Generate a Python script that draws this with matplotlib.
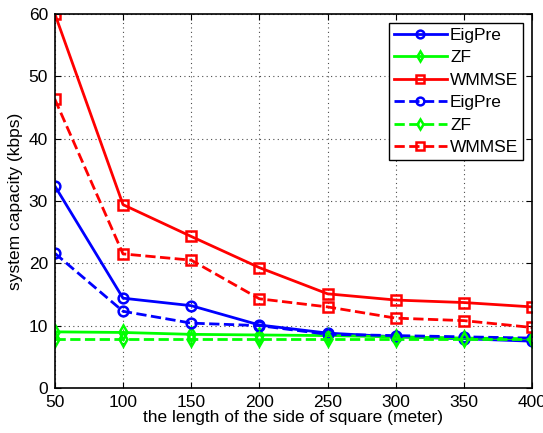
import numpy as np
import matplotlib.pyplot as plt

plt.rcParams['font.family'] = ['Liberation Sans', 'DejaVu Sans']

side = [50, 100, 150, 200, 250, 300, 350, 400]

eig_solid = [32.4, 14.4, 13.2, 10.1, 8.8, 8.2, 7.9, 7.5]
zf_solid = [9.0, 8.9, 8.6, 8.5, 8.4, 8.2, 8.0, 7.9]
wmmse_solid = [60.0, 29.4, 24.3, 19.3, 15.1, 14.1, 13.7, 13.0]

eig_dash = [21.6, 12.3, 10.4, 10.0, 8.6, 8.4, 8.2, 8.0]
zf_dash = [7.8, 7.8, 7.8, 7.8, 7.8, 7.8, 7.8, 7.8]
wmmse_dash = [46.3, 21.5, 20.5, 14.3, 13.0, 11.2, 10.8, 9.7]

blue = '#0000ff'
green = '#00ff00'
red = '#ff0000'

fig = plt.figure(figsize=(5.43, 4.33), dpi=100)
ax = fig.add_axes([0.101, 0.104, 0.879, 0.864])

lw = 2
ms = 7
ax.plot(side, eig_solid, '-o', color=blue, lw=lw, ms=ms, mfc='none', mew=1.8, label='EigPre')
ax.plot(side, zf_solid, '-d', color=green, lw=lw, ms=ms, mfc='none', mew=1.8, label='ZF')
ax.plot(side, wmmse_solid, '-s', color=red, lw=lw, ms=ms, mfc='none', mew=1.8, label='WMMSE')
ax.plot(side, eig_dash, '--o', color=blue, lw=lw, ms=ms, mfc='none', mew=1.8, label='EigPre')
ax.plot(side, zf_dash, '--d', color=green, lw=lw, ms=ms, mfc='none', mew=1.8, label='ZF')
ax.plot(side, wmmse_dash, '--s', color=red, lw=lw, ms=ms, mfc='none', mew=1.8, label='WMMSE')

ax.set_xlim(50, 400)
ax.set_ylim(0, 60)
ax.set_xticks(side)
ax.set_yticks([0, 10, 20, 30, 40, 50, 60])
ax.grid(True, linestyle=(0, (1, 3)), color='black', linewidth=0.8, alpha=0.7)
ax.tick_params(direction='in', top=True, right=True, labelsize=12.5, length=4, pad=5)
for s in ax.spines.values():
    s.set_linewidth(1.2)

ax.set_xlabel('the length of the side of square (meter)', fontsize=12.5, labelpad=0)
ax.set_ylabel('system capacity (kbps)', fontsize=12.5, labelpad=4)

leg = ax.legend(loc='upper right', fontsize=12.5, fancybox=False, framealpha=1,
                edgecolor='black', handlelength=3.0, borderaxespad=0.5,
                labelspacing=0.42, handletextpad=0.2, borderpad=0.3, markerscale=0.8)
leg.get_frame().set_linewidth(1.0)

fig.savefig('out.png', dpi=100)
